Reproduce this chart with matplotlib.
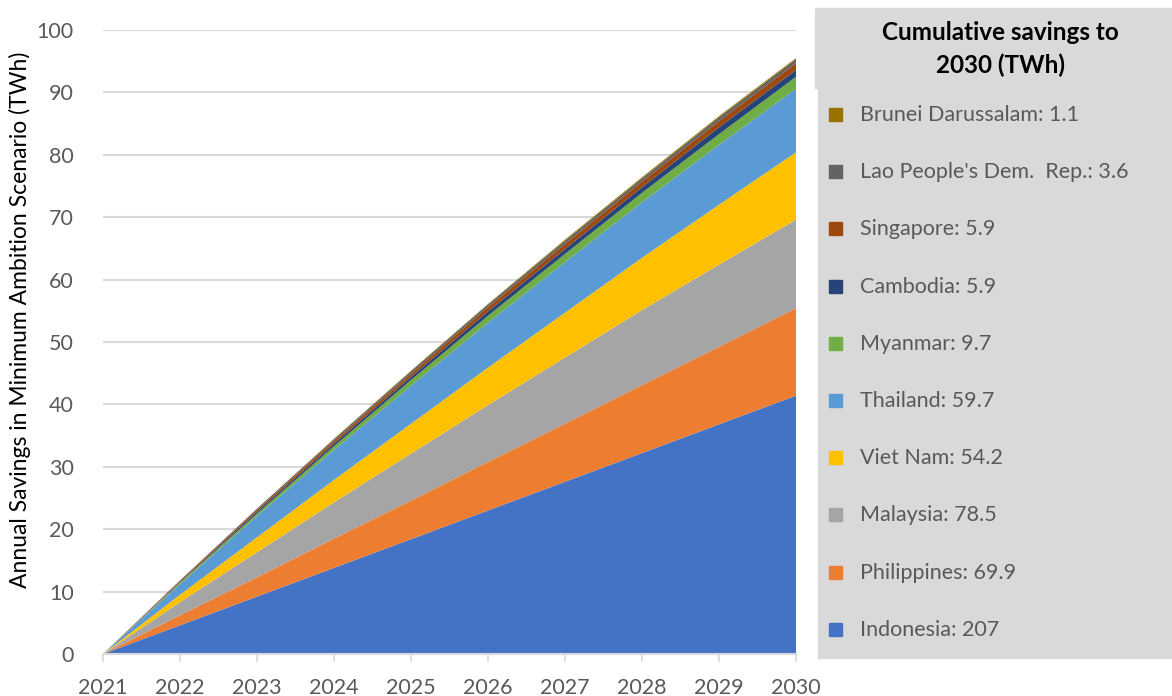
import matplotlib.pyplot as plt
from matplotlib.patches import Rectangle

plt.rcParams['font.family'] = ['Lato', 'DejaVu Sans']

# --- Data: annual savings per country (TWh), Minimum Ambition Scenario ---
years = [2021, 2022, 2023, 2024, 2025, 2026, 2027, 2028, 2029, 2030]

indonesia = [0, 4.6, 9.2, 13.8, 18.4, 23.0, 27.6, 32.2, 36.8, 41.4]
philippines = [0, 1.6, 3.1, 4.7, 6.2, 7.8, 9.3, 10.9, 12.4, 14.0]
malaysia = [0, 2.1, 4.0, 5.8, 7.5, 9.1, 10.6, 12.0, 13.2, 14.2]
viet_nam = [0, 1.2, 2.4, 3.6, 4.8, 6.0, 7.2, 8.4, 9.6, 10.8]
thailand = [0, 1.7, 3.4, 4.8, 6.1, 7.2, 8.1, 8.9, 9.6, 10.2]
myanmar = [0, 0.2, 0.4, 0.6, 0.9, 1.1, 1.3, 1.5, 1.7, 1.9]
cambodia = [0, 0.1, 0.3, 0.4, 0.5, 0.7, 0.8, 0.9, 1.1, 1.1]
singapore = [0, 0.2, 0.3, 0.4, 0.5, 0.7, 0.8, 0.9, 1.0, 1.1]
lao = [0, 0.1, 0.2, 0.3, 0.4, 0.4, 0.5, 0.5, 0.6, 0.6]
brunei = [0, 0.0, 0.0, 0.1, 0.1, 0.1, 0.2, 0.2, 0.2, 0.2]

countries = ["Indonesia", "Philippines", "Malaysia", "Viet Nam", "Thailand",
             "Myanmar", "Cambodia", "Singapore", "Lao People's Dem.  Rep.",
             "Brunei Darussalam"]
cumulative = ["207", "69.9", "78.5", "54.2", "59.7", "9.7", "5.9", "5.9", "3.6", "1.1"]
series = [indonesia, philippines, malaysia, viet_nam, thailand,
          myanmar, cambodia, singapore, lao, brunei]
colors = ["#4472C4", "#ED7D31", "#A5A5A5", "#FFC000", "#5B9BD5",
          "#70AD47", "#264478", "#9E480E", "#636363", "#997300"]

W, H = 1172, 696
fig = plt.figure(figsize=(W / 100, H / 100), dpi=100)

# --- Stacked area chart ---
ax = fig.add_axes([103 / W, 1 - 654 / H, (796 - 103) / W, (654 - 30) / H])
ax.stackplot(years, *series, colors=colors, linewidth=0)

ax.set_xlim(2021, 2030)
ax.set_ylim(0, 100)
ax.set_xticks(years)
ax.set_yticks(range(0, 101, 10))
ax.grid(axis='y', color='#D9D9D9', linewidth=1.5)
ax.set_axisbelow(True)
for side in ['top', 'right', 'left']:
    ax.spines[side].set_visible(False)
ax.spines['bottom'].set_color('#D9D9D9')
ax.spines['bottom'].set_linewidth(1.5)
ax.tick_params(axis='x', colors='#D9D9D9', length=6, width=1.2, pad=11)
ax.tick_params(axis='y', length=0, pad=21)
for lbl in ax.get_xticklabels() + ax.get_yticklabels():
    lbl.set_color('#595959')
    lbl.set_fontsize(15.5)
ax.set_ylabel("Annual Savings in Minimum Ambition Scenario (TWh)", fontsize=16.5,
              color='black')
ax.yaxis.set_label_coords(-72 / (796 - 103), 0.535)

# --- Legend panel ---
grey = '#D9D9D9'
fig.patches.append(Rectangle((815 / W, 1 - 88 / H), (W - 815) / W, 80 / H,
                             transform=fig.transFigure, color=grey, zorder=0))
fig.patches.append(Rectangle((818 / W, 1 - 658 / H), (W - 818) / W, (658 - 87) / H,
                             transform=fig.transFigure, color=grey, zorder=0))
fig.text(1000 / W, 1 - 49 / H, "Cumulative savings to\n2030 (TWh)", ha='center',
         va='center', fontsize=17.5, fontweight='bold', color='black', linespacing=1.5)

top_y, step = 115, 57.2
for i, (name, total, col) in enumerate(zip(countries[::-1], cumulative[::-1], colors[::-1])):
    y = top_y + i * step
    fig.patches.append(Rectangle((829 / W, 1 - (y + 6) / H), 13 / W, 13 / H,
                                 transform=fig.transFigure, color=col, zorder=1))
    fig.text(860 / W, 1 - y / H, f"{name}: {total}", ha='left', va='center',
             fontsize=15.5, color='#595959')

fig.savefig("out.png", dpi=100)
